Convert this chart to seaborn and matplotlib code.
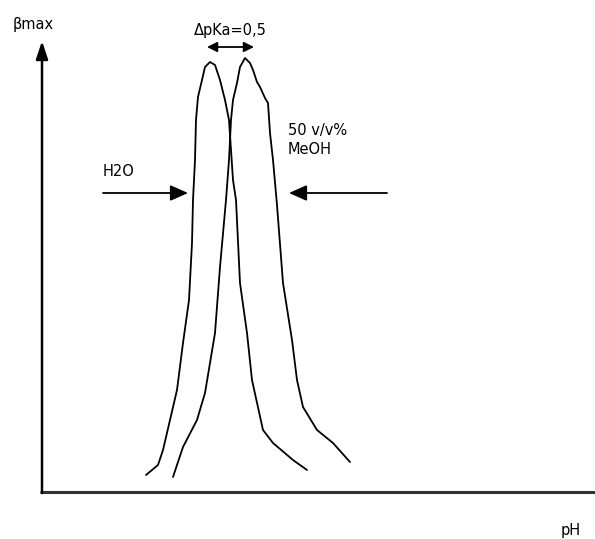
import matplotlib
matplotlib.use("Agg")
import matplotlib.pyplot as plt
import seaborn as sns
import pandas as pd

# Curve data (arbitrary units: x ~ pH position, y ~ beta_max height above baseline)
h2o_x = [146, 158, 163, 170, 177, 183, 189, 192, 193, 195, 196, 198, 202, 205, 210,
         215, 220, 225, 229, 231, 233, 236, 240, 247, 252, 263, 273, 293, 307]
h2o_y = [17, 27, 42, 72, 102, 149, 192, 249, 292, 332, 372, 395, 412, 425, 430,
         427, 412, 392, 372, 342, 312, 292, 209, 159, 112, 62, 49, 32, 22]

meoh_x = [173, 183, 197, 205, 215, 220, 226, 229, 231, 233, 237, 240, 245, 250, 253,
          257, 260, 265, 268, 270, 273, 277, 283, 292, 297, 303, 317, 333, 350]
meoh_y = [15, 45, 72, 99, 159, 225, 292, 332, 372, 392, 409, 425, 434, 429, 422,
          410, 405, 394, 389, 359, 332, 287, 209, 152, 112, 85, 62, 49, 30]

labels = {"y": "βmax", "x": "pH", "delta": "ΔpKa=0,5", "h2o": "H2O", "meoh": "50 v/v%\nMeOH"}

sns.set_theme(style="white")
plt.rcParams["font.family"] = ["DejaVu Sans"]

fig = plt.figure(figsize=(5.95, 5.39), dpi=100)
ax = fig.add_axes([0, 0, 1, 1])
ax.set_xlim(0, 595)
ax.set_ylim(-47, 492)
ax.axis("off")

df1 = pd.DataFrame({"x": h2o_x, "y": h2o_y})
df2 = pd.DataFrame({"x": meoh_x, "y": meoh_y})
sns.lineplot(data=df1, x="x", y="y", sort=False, estimator=None, color="black", lw=1.3, ax=ax)
sns.lineplot(data=df2, x="x", y="y", sort=False, estimator=None, color="black", lw=1.3, ax=ax)

# axes
ax.plot([40, 595], [0, 0], color="#333333", lw=2.2, solid_capstyle="butt")
ax.annotate("", xy=(42, 451), xytext=(42, -1),
            arrowprops=dict(arrowstyle="-|>,head_length=0.9,head_width=0.3", color="black", lw=1.8,
                            shrinkA=0, shrinkB=0))

# horizontal arrows
ax.annotate("", xy=(188, 299), xytext=(103, 299),
            arrowprops=dict(arrowstyle="-|>,head_length=0.9,head_width=0.4", color="black", lw=1.3,
                            shrinkA=0, shrinkB=0))
ax.annotate("", xy=(289, 299), xytext=(387, 299),
            arrowprops=dict(arrowstyle="-|>,head_length=0.9,head_width=0.4", color="black", lw=1.3,
                            shrinkA=0, shrinkB=0))
# double arrow
ax.annotate("", xy=(207, 445), xytext=(254, 445),
            arrowprops=dict(arrowstyle="<|-|>,head_length=0.5,head_width=0.25", color="black", lw=1.3,
                            shrinkA=0, shrinkB=0))

fs = 10.5
tc = "black"
ax.text(13, 467, labels["y"], fontsize=fs, ha="left", va="center", color=tc)
ax.text(571, -39, labels["x"], fontsize=fs, ha="center", va="center", color=tc)
ax.text(230, 461, labels["delta"], fontsize=fs, ha="center", va="center", color=tc)
ax.text(103, 321, labels["h2o"], fontsize=fs, ha="left", va="center", color=tc)
ax.text(288, 352, labels["meoh"], fontsize=fs, ha="left", va="center", linespacing=1.4, color=tc)

fig.savefig("out.png", dpi=100)
